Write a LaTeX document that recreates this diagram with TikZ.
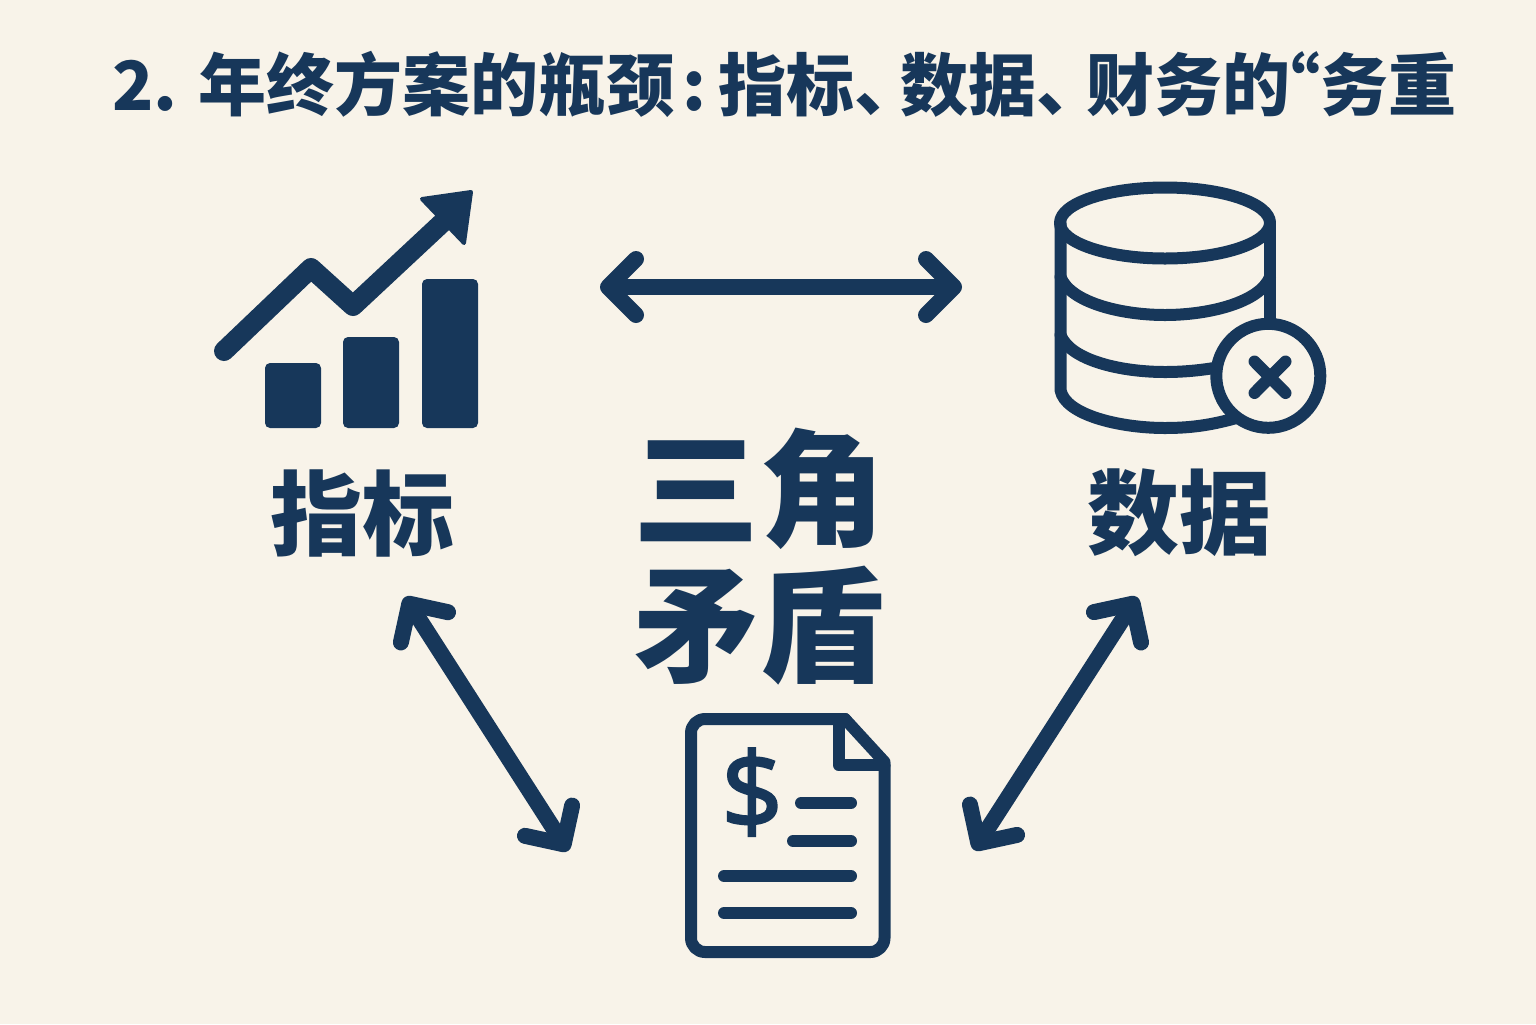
\documentclass[tikz,border=0pt]{standalone}
\usepackage{fontspec}
\newfontfamily\cjk{Noto Sans CJK SC}
\newfontfamily\dollarfont{Noto Sans}[FakeBold=1.6]
\usetikzlibrary{arrows.meta}
\definecolor{navy}{HTML}{17375A}
\definecolor{paper}{HTML}{F8F3E9}
\tikzset{
  lbl/.style={text=navy,inner sep=0pt,font=\cjk\bfseries},
  ink/.style={draw=navy,line width=6pt,line cap=round,line join=round},
  twoway/.style={draw=navy,line width=8pt,line cap=round,line join=round,
    {Straight Barb[round,length=14pt,width=28pt]}-{Straight Barb[round,length=14pt,width=28pt]}},
  barshape/.style={fill=navy,rounded corners=2.5pt},
}
\begin{document}
\begin{tikzpicture}[x=0.5pt,y=-0.5pt]
\useasboundingbox (0,0) rectangle (1536,1024);
\fill[paper] (0,0) rectangle (1536,1024);
% title
\node[lbl,anchor=base west,font=\cjk\bfseries\fontsize{34pt}{36pt}\selectfont] (title) at (112,110)
  {2. 年终方案的瓶颈\kern4pt:\kern6pt 指标、\kern-11pt数据、\kern-9pt财务的\kern-19pt“务重};
% labels
\node[lbl,font=\cjk\bfseries\fontsize{46pt}{50pt}\selectfont] (metrics) at (362,513) {指标};
\node[lbl,font=\cjk\bfseries\fontsize{46pt}{50pt}\selectfont] (data) at (1179,513) {数据};
\node[lbl,font=\cjk\bfseries\fontsize{63pt}{70pt}\selectfont,align=center] (core) at (759,557) {三角\\[-2pt]矛盾};
% chart icon
\fill[barshape] (265,363) rectangle (321,428);
\fill[barshape] (343,337) rectangle (399,428);
\fill[barshape] (422,279) rectangle (478,428);
\draw[navy,line width=10pt,line cap=round,line join=round] (224,351) -- (311,268) -- (353,306) -- (443,222);
\fill[navy,draw=navy,line width=2pt,line join=round] (471,192) -- (422,199) -- (464,243) -- cycle;
% database icon
\begin{scope}[ink]
  \draw (1165,223) ellipse [x radius=105,y radius=35.5];
  \draw (1060.5,223) -- (1060.5,390) .. controls (1065,415) and (1120,428) .. (1165,428) .. controls (1195,428) and (1215,424) .. (1240,417);
  \draw (1270,223) -- (1270,325);
  \draw (1060.5,277) .. controls (1070,302) and (1120,315) .. (1165,315) .. controls (1210,315) and (1260,302) .. (1270,277);
  \draw (1060.5,335) .. controls (1070,360) and (1120,372) .. (1165,372) .. controls (1185,372) and (1205,370) .. (1225,366);
  \draw[fill=paper] (1268.3,375.8) circle [radius=52];
  \draw (1254.5,361.5) -- (1285.5,393);
  \draw (1285.5,361.5) -- (1254.5,393);
\end{scope}
% finance document icon
\begin{scope}[ink]
  \draw[rounded corners=7pt] (845,719) -- (691,719) -- (691,952) -- (884.5,952) -- (884.5,765);
  \draw (845,719) -- (884.5,762);
  \draw (838.5,719) -- (838.5,765) -- (884.5,765);
  \draw (801,803) -- (851,803);
  \draw (793,841) -- (851,841);
  \draw (724,876) -- (851,876);
  \draw (724,913) -- (851,913);
\end{scope}
\node[lbl,font=\dollarfont\fontsize{54pt}{56pt}\selectfont] (dollar) at (752,792) {\$};
% connectors
\coordinate (ta) at (600,287);
\coordinate (tb) at (962,287);
\coordinate (la) at (405,597);
\coordinate (lb) at (568,851);
\coordinate (ra) at (1137,597);
\coordinate (rb) at (974,850);
\draw[twoway] (ta) -- (tb);
\draw[twoway] (la) -- (lb);
\draw[twoway] (ra) -- (rb);
\end{tikzpicture}
\end{document}
